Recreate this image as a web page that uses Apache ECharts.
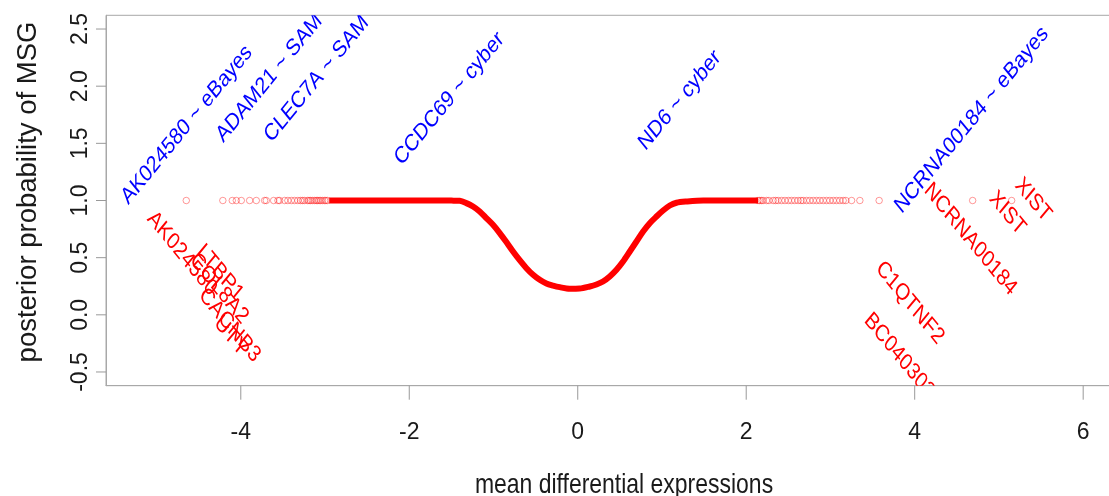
<!DOCTYPE html>
<html>
<head>
<meta charset="utf-8">
<script src="https://cdn.jsdelivr.net/npm/echarts@6/dist/echarts.min.js"></script>
<style>
  html, body { margin: 0; padding: 0; background: #ffffff; overflow: hidden; }
  #chart { width: 1109px; height: 496px; }
</style>
</head>
<body>
<div id="chart"></div>
<script>
// Axis ticks
const xTicks = [-4, -2, 0, 2, 4, 6];
const yTicks = [-0.5, 0, 0.5, 1, 1.5, 2, 2.5];

// Dense part of the cloud: posterior probability against mean differential expression
const curveX = [-2.95, -2.4, -2.0, -1.75, -1.6, -1.5, -1.401, -1.322, -1.243, -1.164, -1.085, -1.006,
  -0.926, -0.847, -0.768, -0.689, -0.609, -0.530, -0.451, -0.372, -0.293, -0.214, -0.095, 0.024,
  0.143, 0.222, 0.300, 0.380, 0.460, 0.538, 0.618, 0.697, 0.776, 0.855, 0.935, 1.013, 1.093, 1.172,
  1.291, 1.49, 1.7, 1.9, 2.14];
const curveY = [1.0, 1.0, 1.0, 1.0, 1.0, 0.999, 0.997, 0.977, 0.947, 0.904, 0.846, 0.787,
  0.715, 0.636, 0.554, 0.478, 0.408, 0.350, 0.306, 0.274, 0.256, 0.242, 0.228, 0.230,
  0.248, 0.265, 0.291, 0.335, 0.394, 0.466, 0.554, 0.641, 0.729, 0.802, 0.860, 0.912, 0.956, 0.980,
  0.991, 1.0, 1.0, 1.0, 1.0];

// Sparse genes in the tails
const leftTailX = [-4.647, -4.213, -4.101, -4.053, -3.994, -3.895, -3.816, -3.717, -3.697, -3.610,
  -3.559, -3.539, -3.480, -3.441, -3.400, -3.361, -3.322, -3.290, -3.266, -3.242, -3.207, -3.190,
  -3.171, -3.150, -3.124, -3.105, -3.088, -3.070, -3.052, -3.030, -3.005, -2.990, -2.969];
const leftTailY = [1, 1, 1, 1, 1, 1, 1, 1, 1, 1, 1, 1, 1, 1, 1, 1, 1, 1, 1, 1, 1, 1, 1, 1, 1, 1, 1, 1, 1, 1, 1, 1, 1];
const rightTailX = [2.14, 2.16, 2.182, 2.20, 2.241, 2.27, 2.320, 2.35, 2.379, 2.42, 2.46, 2.50, 2.538,
  2.577, 2.616, 2.650, 2.676, 2.716, 2.755, 2.795, 2.835, 2.874, 2.914, 2.954, 2.993, 3.033, 3.072,
  3.112, 3.151, 3.183, 3.251, 3.349, 3.578, 4.688, 5.151];
const rightTailY = [1, 1, 1, 1, 1, 1, 1, 1, 1, 1, 1, 1, 1, 1, 1, 1, 1, 1, 1, 1, 1, 1, 1, 1, 1, 1, 1, 1, 1, 1, 1, 1, 1, 1, 1];

// Top gene per method (text starts at the given point, reading upwards)
const methodText = ['AK024580 ~ eBayes', 'ADAM21 ~ SAM', 'CLEC7A ~ SAM', 'CCDC69 ~ cyber', 'ND6 ~ cyber', 'NCRNA00184 ~ eBayes'];
const methodX = [-5.380, -4.252, -3.682, -2.138, 0.760, 3.801];
const methodY = [0.998, 1.540, 1.540, 1.339, 1.470, 0.919];

// Extreme genes (text starts at the given point, reading downwards)
const geneText = ['AK024580', 'COL8A2', 'LTBP1', 'CACNB3', 'UTY', 'NCRNA00184', 'XIST', 'XIST', 'C1QTNF2', 'BC040303'];
const geneX = [-5.074, -4.567, -4.487, -4.46, -4.28, 4.149, 4.922, 5.227, 3.576, 3.437];
const geneY = [0.874, 0.509, 0.583, 0.203, -0.04, 1.121, 1.049, 1.165, 0.436, -0.016];

const toPairs = (xs, ys) => xs.map((x, i) => [x, ys[i]]);

// Axis extents
const X_MIN = -5.6, X_MAX = 6.69;
const Y_MIN = -0.62, Y_MAX = 2.62;

const FONT = '"Liberation Sans", Arial, Helvetica, sans-serif';
const LABEL_SIZE = 23.5;
const SQUEEZE = 0.82;
const FRAME = '#a8a8a8';
const TICK = '#999999';

// Rotated gene labels, narrowed horizontally after rotation
function rotatedLabels(texts, color, angle) {
  return function (params, api) {
    const p = api.coord([api.value(0), api.value(1)]);
    return {
      type: 'group',
      x: p[0],
      y: p[1],
      scaleX: SQUEEZE,
      children: [{
        type: 'text',
        x: 0,
        y: 0,
        rotation: angle,
        style: {
          text: texts[params.dataIndex],
          fill: color,
          fontSize: LABEL_SIZE,
          fontFamily: FONT,
          align: 'left',
          verticalAlign: 'middle'
        }
      }]
    };
  };
}

// Outward tick marks on the frame, placed through the axis scales
function tickMarks(dx, dy) {
  return function (params, api) {
    const p = api.coord([api.value(0), api.value(1)]);
    return {
      type: 'line',
      shape: { x1: p[0], y1: p[1], x2: p[0] + dx, y2: p[1] + dy },
      style: { stroke: TICK, lineWidth: 1 }
    };
  };
}

const pointStyle = {
  color: 'rgba(255,0,0,0)',
  borderColor: 'rgba(255,0,0,0.5)',
  borderWidth: 1
};

const chart = echarts.init(document.getElementById('chart'), null, { renderer: 'canvas' });
chart.setOption({
  animation: false,
  backgroundColor: '#ffffff',
  grid: {
    left: 106,
    width: 1035.3,
    top: 15.3,
    height: 370.4,
    outerBoundsMode: 'none',
    containLabel: false,
    show: true,
    borderColor: FRAME,
    borderWidth: 1,
    backgroundColor: 'transparent'
  },
  graphic: [{
    type: 'text',
    x: 624,
    y: 485,
    scaleX: SQUEEZE,
    style: {
      text: 'mean differential expressions',
      fontSize: 28,
      fontFamily: FONT,
      fill: '#1a1a1a',
      align: 'center',
      verticalAlign: 'middle'
    }
  }],
  xAxis: [
    {
      type: 'value',
      min: X_MIN,
      max: X_MAX,
      splitLine: { show: false },
      axisLine: { show: true, onZero: true, onZeroAxisIndex: 1, lineStyle: { color: FRAME, width: 1 } },
      axisTick: { show: false },
      axisLabel: {
        customValues: xTicks,
        margin: 35,
        fontSize: 23,
        fontFamily: FONT,
        color: '#1a1a1a'
      }
    },
    // helper axis whose zero is the left edge
    { type: 'value', min: 0, max: 1, show: false }
  ],
  yAxis: [
    {
      type: 'value',
      min: Y_MIN,
      max: Y_MAX,
      splitLine: { show: false },
      axisLine: { show: true, onZero: true, onZeroAxisIndex: 1, lineStyle: { color: FRAME, width: 1 } },
      axisTick: { show: false },
      axisLabel: {
        customValues: yTicks,
        rotate: 90,
        margin: 14,
        fontSize: 23,
        fontFamily: FONT,
        color: '#1a1a1a',
        formatter: v => v.toFixed(1)
      },
      name: 'posterior probability of MSG',
      nameLocation: 'middle',
      nameGap: 64,
      nameTextStyle: { fontSize: 27.5, fontFamily: FONT, color: '#1a1a1a', padding: [0, 0, 0, 17] }
    },
    // helper axis whose zero is the bottom edge
    { type: 'value', min: 0, max: 1, show: false }
  ],
  series: [
    {
      type: 'line',
      data: toPairs(curveX, curveY),
      smooth: 0.3,
      showSymbol: false,
      lineStyle: { color: '#ff0000', width: 6 },
      clip: true,
      z: 2
    },
    {
      type: 'scatter',
      data: toPairs(leftTailX, leftTailY),
      symbol: 'circle',
      symbolSize: 6.5,
      itemStyle: pointStyle,
      z: 3
    },
    {
      type: 'scatter',
      data: toPairs(rightTailX, rightTailY),
      symbol: 'circle',
      symbolSize: 6.5,
      itemStyle: pointStyle,
      z: 3
    },
    {
      type: 'custom',
      data: toPairs(methodX, methodY),
      renderItem: rotatedLabels(methodText, '#0000ff', Math.PI / 4),
      clip: true,
      z: 5
    },
    {
      type: 'custom',
      data: toPairs(geneX, geneY),
      renderItem: rotatedLabels(geneText, '#ff0000', -Math.PI / 4),
      clip: true,
      z: 5
    },
    {
      type: 'custom',
      silent: true,
      data: xTicks.map(v => [v, Y_MIN]),
      renderItem: tickMarks(0, 14),
      clip: false,
      z: 4
    },
    {
      type: 'custom',
      silent: true,
      data: yTicks.map(v => [X_MIN, v]),
      renderItem: tickMarks(-10, 0),
      clip: false,
      z: 4
    }
  ]
});
</script>
</body>
</html>
